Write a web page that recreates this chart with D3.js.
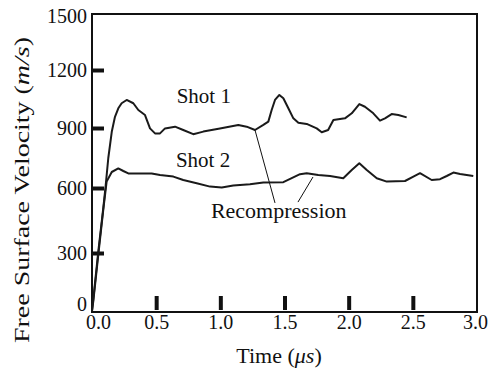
<!DOCTYPE html>
<html><head><meta charset="utf-8">
<script src="https://cdn.jsdelivr.net/npm/d3@7"></script>
<style>
html,body{margin:0;padding:0;background:#fff;}
svg text{font-family:"Liberation Serif","Times New Roman",Tinos,Times,serif;fill:#111;}
</style></head>
<body><svg id="c" width="488" height="372"></svg>
<script>
// ---- data ----
const xTickValues = [0.0, 0.5, 1.0, 1.5, 2.0, 2.5, 3.0];
const xTickLabels = ["0.0", "0.5", "1.0", "1.5", "2.0", "2.5", "3.0"];
const yTickValues = [0, 300, 600, 900, 1200, 1500];
const yTickLabels = ["0", "300", "600", "900", "1200", "1500"];

const shot1Time = [0, 0.01, 0.049, 0.088, 0.107, 0.127, 0.154, 0.179, 0.205, 0.231, 0.27, 0.322, 0.361, 0.413, 0.452, 0.491, 0.53, 0.569, 0.647, 0.711, 0.789, 0.867, 0.997, 1.14, 1.205, 1.27, 1.335, 1.374, 1.4, 1.426, 1.46, 1.491, 1.53, 1.569, 1.608, 1.673, 1.751, 1.79, 1.84, 1.881, 1.971, 2.024, 2.083, 2.127, 2.192, 2.244, 2.283, 2.335, 2.387, 2.452];
const shot1Vel  = [0, 60, 306, 508, 615, 750, 881, 958, 1002, 1028, 1045, 1028, 993, 967, 898, 873, 873, 898, 907, 890, 869, 882, 898, 916, 907, 890, 916, 933, 993, 1045, 1071, 1054, 1002, 950, 927, 921, 898, 879, 890, 941, 950, 976, 1024, 1010, 976, 938, 950, 972, 967, 955];

const shot2Time = [0, 0.01, 0.049, 0.088, 0.114, 0.154, 0.205, 0.244, 0.283, 0.361, 0.465, 0.53, 0.634, 0.711, 0.816, 0.92, 1.011, 1.101, 1.231, 1.335, 1.491, 1.556, 1.621, 1.673, 1.763, 1.855, 1.958, 2.024, 2.083, 2.141, 2.219, 2.297, 2.439, 2.504, 2.556, 2.647, 2.712, 2.764, 2.816, 2.868, 2.971];
const shot2Vel  = [0, 50, 290, 500, 632, 680, 698, 685, 673, 673, 673, 665, 657, 640, 624, 607, 602, 612, 619, 627, 629, 649, 669, 674, 665, 660, 649, 690, 724, 690, 649, 632, 635, 657, 674, 640, 644, 660, 677, 670, 660];

const seriesLabels = ["Shot 1", "Shot 2"];
const seriesLabelTime = [0.66, 0.654];
const seriesLabelVel = [1029, 706];

const annotationText = "Recompression";
const annotationTime = 1.455, annotationVel = 462;
// pointer lines: from curve point to label
const pointerFromTime = [1.27, 1.722];
const pointerFromVel  = [890, 655];
const pointerToTime   = [1.426, 1.605];
const pointerToVel    = [531, 535];

// ---- layout ----
const FONT = '"Liberation Serif","Times New Roman",Tinos,Times,serif';
const L = 92, R = 477, T = 14, B = 312;
const svg = d3.select("#c");

const x = d3.scaleLinear().domain([0, 3]).range([L, R]);
// axis ticks in the source are unevenly spaced; follow them
const y = d3.scaleLinear().domain([0, 300, 600, 900, 1200, 1500]).range([311, 253, 188, 128, 70, 14]);

// frame
svg.append("rect").attr("x", L).attr("y", T).attr("width", R - L).attr("height", B - T)
  .attr("fill", "none").attr("stroke", "#111").attr("stroke-width", 2);

// inward ticks (interior only)
const yIn = d3.axisLeft(y).tickValues(yTickValues.slice(1, -1)).tickSize(-12).tickFormat("");
const gyi = svg.append("g").attr("transform", `translate(${L},0)`).call(yIn);
gyi.select(".domain").remove();
gyi.selectAll("line").attr("stroke", "#111").attr("stroke-width", 4);

const xIn = d3.axisBottom(x).tickValues(xTickValues.slice(1, -1)).tickSize(-14).tickFormat("");
const gxi = svg.append("g").attr("transform", `translate(0,${B - 2})`).call(xIn);
gxi.select(".domain").remove();
gxi.selectAll("line").attr("stroke", "#111").attr("stroke-width", 4);

// labels
const yLab = d3.axisLeft(y).tickValues(yTickValues).tickSize(0).tickPadding(5)
  .tickFormat((d, i) => yTickLabels[i]);
const gyl = svg.append("g").attr("transform", `translate(${L},0)`).call(yLab);
gyl.attr("font-family", FONT);
gyl.select(".domain").remove();
gyl.selectAll("text").attr("font-size", 20).attr("fill", "#111");
gyl.selectAll(".tick").filter(d => d === 0).select("text").attr("dy", "-0.05em");
gyl.selectAll(".tick").filter(d => d === 1500).select("text").attr("dy", "0.4em");

const xLab = d3.axisBottom(x).tickValues(xTickValues).tickSize(0).tickPadding(3)
  .tickFormat((d, i) => xTickLabels[i]);
const gxl = svg.append("g").attr("transform", `translate(0,${B})`).call(xLab);
gxl.attr("font-family", FONT);
gxl.select(".domain").remove();
gxl.selectAll("text").attr("font-size", 20).attr("fill", "#111");
gxl.selectAll(".tick").filter(d => d === 0).select("text").attr("dx", 6);
gxl.selectAll(".tick").filter(d => d === 3).select("text").attr("dx", -2);

// axis titles
const yt = svg.append("text").attr("transform", "translate(29,190) rotate(-90)")
  .attr("text-anchor", "middle").attr("font-size", 22)
  .attr("textLength", 306).attr("lengthAdjust", "spacingAndGlyphs");
yt.append("tspan").text("Free Surface Velocity (");
yt.append("tspan").attr("font-style", "italic").text("m/s");
yt.append("tspan").text(")");

const xt = svg.append("text").attr("x", 279).attr("y", 363).attr("text-anchor", "middle").attr("font-size", 22);
xt.append("tspan").text("Time (");
xt.append("tspan").attr("font-style", "italic").text("\u03bcs");
xt.append("tspan").text(")");

// series
const line = d3.line().x(d => x(d[0])).y(d => y(d[1]));
const s1 = shot1Time.map((t, i) => [t, shot1Vel[i]]);
const s2 = shot2Time.map((t, i) => [t, shot2Vel[i]]);
[s1, s2].forEach(s => {
  svg.append("path").datum(s).attr("d", line).attr("fill", "none")
    .attr("stroke", "#1a1a1a").attr("stroke-width", 2).attr("stroke-linejoin", "round");
});

// pointer lines
pointerFromTime.forEach((t, i) => {
  svg.append("line").attr("x1", x(t)).attr("y1", y(pointerFromVel[i]))
    .attr("x2", x(pointerToTime[i])).attr("y2", y(pointerToVel[i]))
    .attr("stroke", "#111").attr("stroke-width", 1);
});

// series labels
seriesLabels.forEach((s, i) => {
  svg.append("text").attr("x", x(seriesLabelTime[i])).attr("y", y(seriesLabelVel[i]))
    .attr("font-size", 21).text(s);
});
svg.append("text").attr("x", x(annotationTime)).attr("y", y(annotationVel))
  .attr("text-anchor", "middle").attr("font-size", 22).text(annotationText);
</script></body></html>
